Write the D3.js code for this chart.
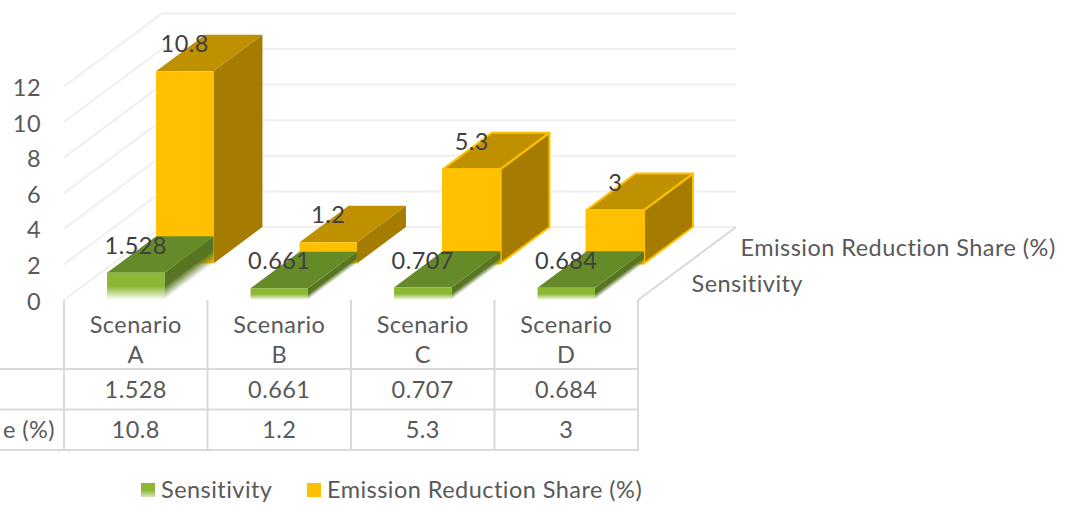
<!DOCTYPE html>
<html>
<head>
<meta charset="utf-8">
<script src="https://cdn.jsdelivr.net/npm/d3@7"></script>
<style>
  html, body { margin: 0; padding: 0; background: #fff; }
  svg { display: block; }
  text { font-family: Lato, sans-serif; }
</style>
</head>
<body>
<svg id="chart" width="1074" height="505"></svg>
<script>
// Chart data
const categories = ["Scenario A", "Scenario B", "Scenario C", "Scenario D"];
const seriesNames = ["Sensitivity", "Emission Reduction Share (%)"];
const sensitivity = [1.528, 0.661, 0.707, 0.684];
const emissionShare = [10.8, 1.2, 5.3, 3];
const yTicks = [0, 2, 4, 6, 8, 10, 12];

const seriesValues = [sensitivity, emissionShare];
const palette = [
  { front: "#8ab833", top: "#658b28", side: "#577523" },
  { front: "#ffc000", top: "#bf9000", side: "#a67c00" }
];
const outlinedCategories = new Set(["Scenario C", "Scenario D"]);

const svg = d3.select("#chart");
const defs = svg.append("defs");

// Oblique projection: a point is placed by category, value and depth.
const x = d3.scaleBand().domain(categories).range([64, 638]).paddingInner(0).paddingOuter(0);
const y = d3.scaleLinear().domain([0, 12]).range([300, 86.4]);
const depthX = d3.scaleLinear().domain([0, 1]).range([0, 98]);
const depthY = d3.scaleLinear().domain([0, 1]).range([0, -73]);
const depthBand = d3.scaleBand().domain(seriesNames).range([0, 1]);
const barInset = x.bandwidth() * 0.3;
const barWidth = x.bandwidth() * 0.4;

const px = (u, d) => u + depthX(d);
const py = (v, d) => y(v) + depthY(d);
const poly = pts => pts.map(p => p.join(",")).join(" ");

const wallColor = "#efefef";
const tableColor = "#d9d9d9";
const textColor = "#595959";
const labelColor = "#404040";
const fontSize = 23.5;
const spacing = 0.46;

// Side and back walls
const walls = svg.append("g").attr("fill", "none").attr("stroke-width", 2);
yTicks.forEach(t => {
  walls.append("polyline")
    .attr("stroke", wallColor)
    .attr("points", poly([[px(x.range()[0], 0), py(t, 0)], [px(x.range()[0], 1), py(t, 1)], [px(x.range()[1], 1), py(t, 1)]]));
});
walls.append("line")
  .attr("stroke", tableColor)
  .attr("x1", px(x.range()[1], 0)).attr("y1", py(0, 0))
  .attr("x2", px(x.range()[1], 1)).attr("y2", py(0, 1));

// Value axis
const yAxis = d3.axisLeft(y).tickValues(yTicks).tickSize(0).tickPadding(0).tickFormat(d3.format("d"));
const yG = svg.append("g").attr("transform", "translate(41,1.5)").call(yAxis);
yG.select(".domain").remove();
yG.selectAll("text")
  .attr("font-size", fontSize).attr("fill", textColor).attr("letter-spacing", spacing)
  .style("font-family", "Lato, sans-serif");

// Bars, drawn from the back row to the front row
const fadeId = (c, face) => `fade-${categories.indexOf(c)}-${face}`;
[1, 0].forEach(si => {
  const name = seriesNames[si];
  const colors = palette[si];
  const d0 = depthBand(name);
  const d1 = d0 + depthBand.bandwidth();
  const g = svg.append("g").attr("class", "series");
  categories.forEach((c, i) => {
    const v = seriesValues[si][i];
    const l = x(c) + barInset;
    const r = l + barWidth;
    const bar = g.append("g");
    const outlined = si === 1 && outlinedCategories.has(c);
    const edge = sel => outlined
      ? sel.attr("stroke", "#ffc000").attr("stroke-width", 2).attr("stroke-linejoin", "round")
      : sel;

    let frontFill = colors.front;
    let sideFill = colors.side;
    if (si === 0) {
      // Front row melts into the floor along its lower edge
      const barH = y(0) - y(v);
      const fadeH = barH * 0.5;
      const front = defs.append("linearGradient").attr("id", fadeId(c, "front"))
        .attr("gradientUnits", "userSpaceOnUse")
        .attr("x1", 0).attr("x2", 0).attr("y1", y(0) - fadeH).attr("y2", y(0));
      front.append("stop").attr("offset", 0).attr("stop-color", colors.front);
      front.append("stop").attr("offset", 1).attr("stop-color", colors.front).attr("stop-opacity", 0);
      frontFill = `url(#${fadeId(c, "front")})`;

      const ex = depthX(d1 - d0), ey = depthY(d1 - d0);
      const len = Math.hypot(ex, ey);
      const nx = -ey / len, ny = ex / len;
      const bx = px(r, d0), by = py(0, d0);
      const side = defs.append("linearGradient").attr("id", fadeId(c, "side"))
        .attr("gradientUnits", "userSpaceOnUse")
        .attr("x1", bx - nx * fadeH * 0.8).attr("y1", by - ny * fadeH * 0.8)
        .attr("x2", bx).attr("y2", by);
      side.append("stop").attr("offset", 0).attr("stop-color", colors.side);
      side.append("stop").attr("offset", 1).attr("stop-color", colors.side).attr("stop-opacity", 0);
      sideFill = `url(#${fadeId(c, "side")})`;
    }

    bar.append("polygon").call(edge).attr("fill", sideFill)
      .attr("points", poly([[px(r, d0), py(v, d0)], [px(r, d1), py(v, d1)], [px(r, d1), py(0, d1)], [px(r, d0), py(0, d0)]]));
    bar.append("polygon").call(edge).attr("fill", colors.top)
      .attr("points", poly([[px(l, d0), py(v, d0)], [px(l, d1), py(v, d1)], [px(r, d1), py(v, d1)], [px(r, d0), py(v, d0)]]));
    bar.append("polygon").call(edge).attr("fill", frontFill)
      .attr("points", poly([[px(l, d0), py(v, d0)], [px(r, d0), py(v, d0)], [px(r, d0), py(0, d0)], [px(l, d0), py(0, d0)]]));
  });
});

// Value labels above each bar
const labels = svg.append("g").attr("font-size", fontSize).attr("fill", labelColor)
  .attr("text-anchor", "middle").attr("letter-spacing", spacing);
[1, 0].forEach(si => {
  const d0 = depthBand(seriesNames[si]);
  categories.forEach((c, i) => {
    const v = seriesValues[si][i];
    labels.append("text")
      .attr("x", px(x(c) + barInset + barWidth / 2, d0))
      .attr("y", py(v, d0) - 27)
      .attr("dy", "0.35em")
      .text(v);
  });
});

// Series names along the depth axis
const depthLabels = svg.append("g").attr("font-size", fontSize).attr("fill", textColor).attr("letter-spacing", spacing);
seriesNames.forEach(name => {
  const mid = depthBand(name) + depthBand.bandwidth() / 2;
  depthLabels.append("text")
    .attr("x", px(x.range()[1], mid) + 29)
    .attr("y", py(0, mid) + 2.5)
    .attr("dy", "0.35em")
    .text(name);
});

// Data table below the plot
const rowLines = [369, 409.5, 450];
const table = svg.append("g").attr("stroke", tableColor).attr("stroke-width", 2);
[...categories.map(c => x(c)), x.range()[1]].forEach(v => {
  table.append("line").attr("x1", v).attr("x2", v).attr("y1", y(0)).attr("y2", rowLines[2] + 1);
});
rowLines.forEach(r => {
  table.append("line").attr("x1", 0).attr("x2", x.range()[1] + 1).attr("y1", r).attr("y2", r);
});

const cells = svg.append("g").attr("font-size", fontSize).attr("fill", textColor)
  .attr("text-anchor", "middle").attr("letter-spacing", spacing);
categories.forEach((c, i) => {
  const cx = x(c) + x.bandwidth() / 2;
  const head = c.split(" ");
  cells.append("text").attr("x", cx).attr("y", 325).attr("dy", "0.35em").text(head[0]);
  cells.append("text").attr("x", cx).attr("y", 355).attr("dy", "0.35em").text(head[1]);
  cells.append("text").attr("x", cx).attr("y", 390).attr("dy", "0.35em").text(sensitivity[i]);
  cells.append("text").attr("x", cx).attr("y", 430).attr("dy", "0.35em").text(emissionShare[i]);
});
// Only the tail of the long row heading fits before the first column
svg.append("text").attr("x", 55).attr("y", 430).attr("dy", "0.35em")
  .attr("text-anchor", "end").attr("font-size", fontSize).attr("fill", textColor).attr("letter-spacing", spacing)
  .text(seriesNames[1].slice(-5));

// Legend
const legendSwatch = [141, 307];
const legendText = [161, 327];
const swatchFade = defs.append("linearGradient").attr("id", "swatch-fade").attr("x1", 0).attr("x2", 0).attr("y1", 0).attr("y2", 1);
swatchFade.append("stop").attr("offset", 0.5).attr("stop-color", palette[0].front);
swatchFade.append("stop").attr("offset", 1).attr("stop-color", palette[0].front).attr("stop-opacity", 0.35);
const legend = svg.append("g").attr("font-size", fontSize).attr("fill", textColor).attr("letter-spacing", spacing);
seriesNames.forEach((name, i) => {
  legend.append("rect").attr("x", legendSwatch[i]).attr("y", 483).attr("width", 14).attr("height", 14)
    .attr("fill", i === 0 ? "url(#swatch-fade)" : palette[i].front);
  legend.append("text").attr("x", legendText[i]).attr("y", 490).attr("dy", "0.35em").text(name);
});
</script>
</body>
</html>
